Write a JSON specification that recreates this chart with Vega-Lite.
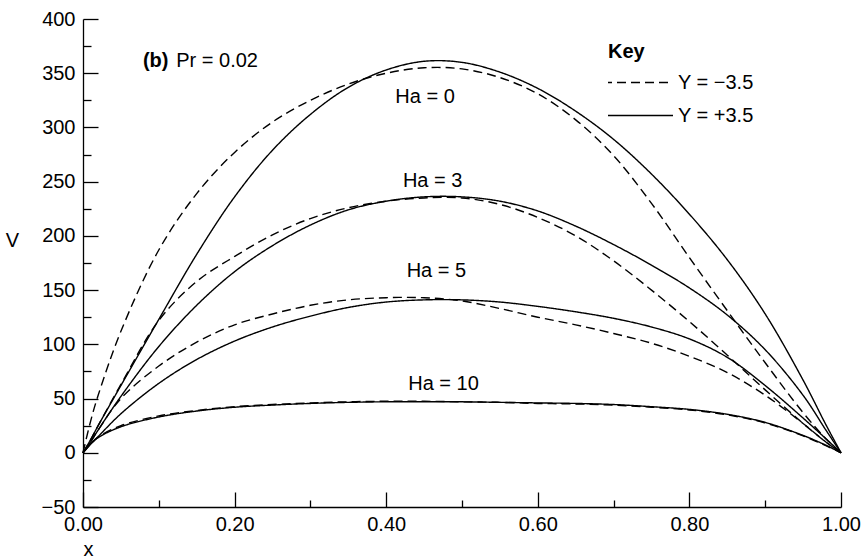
{
  "$schema": "https://vega.github.io/schema/vega-lite/v6.json",
  "width": 758,
  "height": 488,
  "autosize": {"type": "none"},
  "padding": {"left": 83, "top": 19, "right": 24, "bottom": 53},
  "background": "white",
  "config": {
    "font": "Liberation Sans",
    "view": {"stroke": null},
    "axis": {
      "grid": false,
      "domainColor": "black",
      "tickColor": "black",
      "labelColor": "black",
      "titleColor": "black",
      "labelFont": "Liberation Sans",
      "titleFont": "Liberation Sans",
      "labelFontSize": 20,
      "titleFontSize": 20,
      "titleFontWeight": "normal",
      "domainWidth": 1.3,
      "tickWidth": 1.3,
      "labelOverlap": false,
      "labelFlush": false
    }
  },
  "datasets": {
    "profiles": [
      {"x":0,"V":0,"Ha":0,"Y":"Y = +3.5"},{"x":0.01,"V":12,"Ha":0,"Y":"Y = +3.5"},{"x":0.02,"V":25,"Ha":0,"Y":"Y = +3.5"},{"x":0.05,"V":62,"Ha":0,"Y":"Y = +3.5"},{"x":0.1,"V":123,"Ha":0,"Y":"Y = +3.5"},{"x":0.15,"V":183,"Ha":0,"Y":"Y = +3.5"},{"x":0.2,"V":236,"Ha":0,"Y":"Y = +3.5"},{"x":0.25,"V":279,"Ha":0,"Y":"Y = +3.5"},{"x":0.3,"V":312,"Ha":0,"Y":"Y = +3.5"},{"x":0.35,"V":337,"Ha":0,"Y":"Y = +3.5"},{"x":0.4,"V":353,"Ha":0,"Y":"Y = +3.5"},{"x":0.45,"V":361,"Ha":0,"Y":"Y = +3.5"},{"x":0.5,"V":360,"Ha":0,"Y":"Y = +3.5"},{"x":0.55,"V":351,"Ha":0,"Y":"Y = +3.5"},{"x":0.6,"V":336,"Ha":0,"Y":"Y = +3.5"},{"x":0.65,"V":315,"Ha":0,"Y":"Y = +3.5"},{"x":0.7,"V":289,"Ha":0,"Y":"Y = +3.5"},{"x":0.75,"V":257,"Ha":0,"Y":"Y = +3.5"},{"x":0.8,"V":220,"Ha":0,"Y":"Y = +3.5"},{"x":0.85,"V":178,"Ha":0,"Y":"Y = +3.5"},{"x":0.9,"V":128,"Ha":0,"Y":"Y = +3.5"},{"x":0.95,"V":67,"Ha":0,"Y":"Y = +3.5"},{"x":0.98,"V":26,"Ha":0,"Y":"Y = +3.5"},{"x":1,"V":0,"Ha":0,"Y":"Y = +3.5"},

      {"x":0,"V":0,"Ha":0,"Y":"Y = −3.5"},{"x":0.01,"V":29,"Ha":0,"Y":"Y = −3.5"},{"x":0.02,"V":53,"Ha":0,"Y":"Y = −3.5"},{"x":0.05,"V":112,"Ha":0,"Y":"Y = −3.5"},{"x":0.1,"V":187,"Ha":0,"Y":"Y = −3.5"},{"x":0.15,"V":239,"Ha":0,"Y":"Y = −3.5"},{"x":0.2,"V":277,"Ha":0,"Y":"Y = −3.5"},{"x":0.25,"V":305,"Ha":0,"Y":"Y = −3.5"},{"x":0.3,"V":325,"Ha":0,"Y":"Y = −3.5"},{"x":0.35,"V":340,"Ha":0,"Y":"Y = −3.5"},{"x":0.4,"V":350,"Ha":0,"Y":"Y = −3.5"},{"x":0.45,"V":355,"Ha":0,"Y":"Y = −3.5"},{"x":0.5,"V":354,"Ha":0,"Y":"Y = −3.5"},{"x":0.55,"V":346,"Ha":0,"Y":"Y = −3.5"},{"x":0.6,"V":331,"Ha":0,"Y":"Y = −3.5"},{"x":0.65,"V":307,"Ha":0,"Y":"Y = −3.5"},{"x":0.7,"V":274,"Ha":0,"Y":"Y = −3.5"},{"x":0.75,"V":230,"Ha":0,"Y":"Y = −3.5"},{"x":0.8,"V":180,"Ha":0,"Y":"Y = −3.5"},{"x":0.85,"V":131,"Ha":0,"Y":"Y = −3.5"},{"x":0.9,"V":83,"Ha":0,"Y":"Y = −3.5"},{"x":0.95,"V":37,"Ha":0,"Y":"Y = −3.5"},{"x":0.98,"V":13,"Ha":0,"Y":"Y = −3.5"},{"x":1,"V":0,"Ha":0,"Y":"Y = −3.5"},

      {"x":0,"V":0,"Ha":3,"Y":"Y = +3.5"},{"x":0.01,"V":10,"Ha":3,"Y":"Y = +3.5"},{"x":0.02,"V":21,"Ha":3,"Y":"Y = +3.5"},{"x":0.05,"V":52,"Ha":3,"Y":"Y = +3.5"},{"x":0.1,"V":98,"Ha":3,"Y":"Y = +3.5"},{"x":0.15,"V":136,"Ha":3,"Y":"Y = +3.5"},{"x":0.2,"V":167,"Ha":3,"Y":"Y = +3.5"},{"x":0.25,"V":191,"Ha":3,"Y":"Y = +3.5"},{"x":0.3,"V":210,"Ha":3,"Y":"Y = +3.5"},{"x":0.35,"V":224,"Ha":3,"Y":"Y = +3.5"},{"x":0.4,"V":232,"Ha":3,"Y":"Y = +3.5"},{"x":0.45,"V":236,"Ha":3,"Y":"Y = +3.5"},{"x":0.5,"V":236,"Ha":3,"Y":"Y = +3.5"},{"x":0.55,"V":232,"Ha":3,"Y":"Y = +3.5"},{"x":0.6,"V":223,"Ha":3,"Y":"Y = +3.5"},{"x":0.65,"V":209,"Ha":3,"Y":"Y = +3.5"},{"x":0.7,"V":192,"Ha":3,"Y":"Y = +3.5"},{"x":0.75,"V":173,"Ha":3,"Y":"Y = +3.5"},{"x":0.8,"V":152,"Ha":3,"Y":"Y = +3.5"},{"x":0.85,"V":127,"Ha":3,"Y":"Y = +3.5"},{"x":0.9,"V":95,"Ha":3,"Y":"Y = +3.5"},{"x":0.95,"V":53,"Ha":3,"Y":"Y = +3.5"},{"x":0.98,"V":21,"Ha":3,"Y":"Y = +3.5"},{"x":1,"V":0,"Ha":3,"Y":"Y = +3.5"},

      {"x":0,"V":0,"Ha":3,"Y":"Y = −3.5"},{"x":0.01,"V":12,"Ha":3,"Y":"Y = −3.5"},{"x":0.02,"V":25,"Ha":3,"Y":"Y = −3.5"},{"x":0.05,"V":63,"Ha":3,"Y":"Y = −3.5"},{"x":0.1,"V":122,"Ha":3,"Y":"Y = −3.5"},{"x":0.15,"V":158,"Ha":3,"Y":"Y = −3.5"},{"x":0.2,"V":181,"Ha":3,"Y":"Y = −3.5"},{"x":0.25,"V":201,"Ha":3,"Y":"Y = −3.5"},{"x":0.3,"V":216,"Ha":3,"Y":"Y = −3.5"},{"x":0.35,"V":226,"Ha":3,"Y":"Y = −3.5"},{"x":0.4,"V":232,"Ha":3,"Y":"Y = −3.5"},{"x":0.45,"V":235,"Ha":3,"Y":"Y = −3.5"},{"x":0.5,"V":235,"Ha":3,"Y":"Y = −3.5"},{"x":0.55,"V":229,"Ha":3,"Y":"Y = −3.5"},{"x":0.6,"V":217,"Ha":3,"Y":"Y = −3.5"},{"x":0.65,"V":200,"Ha":3,"Y":"Y = −3.5"},{"x":0.7,"V":177,"Ha":3,"Y":"Y = −3.5"},{"x":0.75,"V":150,"Ha":3,"Y":"Y = −3.5"},{"x":0.8,"V":121,"Ha":3,"Y":"Y = −3.5"},{"x":0.85,"V":90,"Ha":3,"Y":"Y = −3.5"},{"x":0.9,"V":58,"Ha":3,"Y":"Y = −3.5"},{"x":0.95,"V":27,"Ha":3,"Y":"Y = −3.5"},{"x":0.98,"V":10,"Ha":3,"Y":"Y = −3.5"},{"x":1,"V":0,"Ha":3,"Y":"Y = −3.5"},

      {"x":0,"V":0,"Ha":5,"Y":"Y = +3.5"},{"x":0.01,"V":8,"Ha":5,"Y":"Y = +3.5"},{"x":0.02,"V":15,"Ha":5,"Y":"Y = +3.5"},{"x":0.05,"V":36,"Ha":5,"Y":"Y = +3.5"},{"x":0.1,"V":64,"Ha":5,"Y":"Y = +3.5"},{"x":0.15,"V":86,"Ha":5,"Y":"Y = +3.5"},{"x":0.2,"V":103,"Ha":5,"Y":"Y = +3.5"},{"x":0.25,"V":116,"Ha":5,"Y":"Y = +3.5"},{"x":0.3,"V":126,"Ha":5,"Y":"Y = +3.5"},{"x":0.35,"V":134,"Ha":5,"Y":"Y = +3.5"},{"x":0.4,"V":139,"Ha":5,"Y":"Y = +3.5"},{"x":0.45,"V":141,"Ha":5,"Y":"Y = +3.5"},{"x":0.5,"V":141,"Ha":5,"Y":"Y = +3.5"},{"x":0.55,"V":139,"Ha":5,"Y":"Y = +3.5"},{"x":0.6,"V":135,"Ha":5,"Y":"Y = +3.5"},{"x":0.65,"V":130,"Ha":5,"Y":"Y = +3.5"},{"x":0.7,"V":124,"Ha":5,"Y":"Y = +3.5"},{"x":0.75,"V":116,"Ha":5,"Y":"Y = +3.5"},{"x":0.8,"V":105,"Ha":5,"Y":"Y = +3.5"},{"x":0.85,"V":88,"Ha":5,"Y":"Y = +3.5"},{"x":0.9,"V":62,"Ha":5,"Y":"Y = +3.5"},{"x":0.95,"V":32,"Ha":5,"Y":"Y = +3.5"},{"x":0.98,"V":13,"Ha":5,"Y":"Y = +3.5"},{"x":1,"V":0,"Ha":5,"Y":"Y = +3.5"},

      {"x":0,"V":0,"Ha":5,"Y":"Y = −3.5"},{"x":0.01,"V":10,"Ha":5,"Y":"Y = −3.5"},{"x":0.02,"V":21,"Ha":5,"Y":"Y = −3.5"},{"x":0.05,"V":50,"Ha":5,"Y":"Y = −3.5"},{"x":0.1,"V":80,"Ha":5,"Y":"Y = −3.5"},{"x":0.15,"V":102,"Ha":5,"Y":"Y = −3.5"},{"x":0.2,"V":118,"Ha":5,"Y":"Y = −3.5"},{"x":0.25,"V":128,"Ha":5,"Y":"Y = −3.5"},{"x":0.3,"V":136,"Ha":5,"Y":"Y = −3.5"},{"x":0.35,"V":141,"Ha":5,"Y":"Y = −3.5"},{"x":0.4,"V":143,"Ha":5,"Y":"Y = −3.5"},{"x":0.45,"V":143,"Ha":5,"Y":"Y = −3.5"},{"x":0.5,"V":140,"Ha":5,"Y":"Y = −3.5"},{"x":0.55,"V":133,"Ha":5,"Y":"Y = −3.5"},{"x":0.6,"V":125,"Ha":5,"Y":"Y = −3.5"},{"x":0.65,"V":118,"Ha":5,"Y":"Y = −3.5"},{"x":0.7,"V":110,"Ha":5,"Y":"Y = −3.5"},{"x":0.75,"V":101,"Ha":5,"Y":"Y = −3.5"},{"x":0.8,"V":89,"Ha":5,"Y":"Y = −3.5"},{"x":0.85,"V":74,"Ha":5,"Y":"Y = −3.5"},{"x":0.9,"V":53,"Ha":5,"Y":"Y = −3.5"},{"x":0.95,"V":27,"Ha":5,"Y":"Y = −3.5"},{"x":0.98,"V":10,"Ha":5,"Y":"Y = −3.5"},{"x":1,"V":0,"Ha":5,"Y":"Y = −3.5"},

      {"x":0,"V":0,"Ha":10,"Y":"Y = +3.5"},{"x":0.01,"V":8,"Ha":10,"Y":"Y = +3.5"},{"x":0.02,"V":14,"Ha":10,"Y":"Y = +3.5"},{"x":0.05,"V":24,"Ha":10,"Y":"Y = +3.5"},{"x":0.1,"V":33,"Ha":10,"Y":"Y = +3.5"},{"x":0.15,"V":38.5,"Ha":10,"Y":"Y = +3.5"},{"x":0.2,"V":42,"Ha":10,"Y":"Y = +3.5"},{"x":0.25,"V":44,"Ha":10,"Y":"Y = +3.5"},{"x":0.3,"V":45.5,"Ha":10,"Y":"Y = +3.5"},{"x":0.35,"V":46.5,"Ha":10,"Y":"Y = +3.5"},{"x":0.4,"V":47,"Ha":10,"Y":"Y = +3.5"},{"x":0.45,"V":47,"Ha":10,"Y":"Y = +3.5"},{"x":0.5,"V":47,"Ha":10,"Y":"Y = +3.5"},{"x":0.55,"V":46.5,"Ha":10,"Y":"Y = +3.5"},{"x":0.6,"V":46,"Ha":10,"Y":"Y = +3.5"},{"x":0.65,"V":45.5,"Ha":10,"Y":"Y = +3.5"},{"x":0.7,"V":44.5,"Ha":10,"Y":"Y = +3.5"},{"x":0.75,"V":42.5,"Ha":10,"Y":"Y = +3.5"},{"x":0.8,"V":40,"Ha":10,"Y":"Y = +3.5"},{"x":0.85,"V":35.5,"Ha":10,"Y":"Y = +3.5"},{"x":0.9,"V":28,"Ha":10,"Y":"Y = +3.5"},{"x":0.95,"V":16,"Ha":10,"Y":"Y = +3.5"},{"x":0.98,"V":7,"Ha":10,"Y":"Y = +3.5"},{"x":1,"V":0,"Ha":10,"Y":"Y = +3.5"},

      {"x":0,"V":0,"Ha":10,"Y":"Y = −3.5"},{"x":0.01,"V":8,"Ha":10,"Y":"Y = −3.5"},{"x":0.02,"V":14.5,"Ha":10,"Y":"Y = −3.5"},{"x":0.05,"V":25,"Ha":10,"Y":"Y = −3.5"},{"x":0.1,"V":34,"Ha":10,"Y":"Y = −3.5"},{"x":0.15,"V":39,"Ha":10,"Y":"Y = −3.5"},{"x":0.2,"V":42.5,"Ha":10,"Y":"Y = −3.5"},{"x":0.25,"V":44.5,"Ha":10,"Y":"Y = −3.5"},{"x":0.3,"V":46,"Ha":10,"Y":"Y = −3.5"},{"x":0.35,"V":47,"Ha":10,"Y":"Y = −3.5"},{"x":0.4,"V":47.5,"Ha":10,"Y":"Y = −3.5"},{"x":0.45,"V":47.5,"Ha":10,"Y":"Y = −3.5"},{"x":0.5,"V":47,"Ha":10,"Y":"Y = −3.5"},{"x":0.55,"V":46.5,"Ha":10,"Y":"Y = −3.5"},{"x":0.6,"V":45.5,"Ha":10,"Y":"Y = −3.5"},{"x":0.65,"V":45,"Ha":10,"Y":"Y = −3.5"},{"x":0.7,"V":44,"Ha":10,"Y":"Y = −3.5"},{"x":0.75,"V":42,"Ha":10,"Y":"Y = −3.5"},{"x":0.8,"V":39.5,"Ha":10,"Y":"Y = −3.5"},{"x":0.85,"V":35,"Ha":10,"Y":"Y = −3.5"},{"x":0.9,"V":27.5,"Ha":10,"Y":"Y = −3.5"},{"x":0.95,"V":15.5,"Ha":10,"Y":"Y = −3.5"},{"x":0.98,"V":6.5,"Ha":10,"Y":"Y = −3.5"},{"x":1,"V":0,"Ha":10,"Y":"Y = −3.5"}
    ],
    "curveLabels": [
      {"x": 0.412, "V": 323, "label": "Ha = 0"},
      {"x": 0.422, "V": 245, "label": "Ha = 3"},
      {"x": 0.427, "V": 162, "label": "Ha = 5"},
      {"x": 0.429, "V": 58, "label": "Ha = 10"},
      {"x": 0.123, "V": 356, "label": "Pr = 0.02"}
    ],
    "panel": [
      {"x": 0.079, "V": 356, "label": "(b)"}
    ]
  },
  "layer": [
    {
      "data": {"name": "profiles"},
      "mark": {"type": "line", "interpolate": "catmull-rom", "color": "black", "strokeWidth": 1.4},
      "encoding": {
        "x": {
          "field": "x", "type": "quantitative",
          "scale": {"domain": [0, 1], "nice": false, "zero": false},
          "axis": {
            "orient": "bottom", "values": [0, 0.2, 0.4, 0.6, 0.8, 1], "format": ".2f",
            "tickSize": -15, "labelPadding": 22,
            "title": "x", "titleAngle": 0, "titleX": 5, "titleY": 48,
            "titleAlign": "center", "titleBaseline": "alphabetic"
          }
        },
        "y": {
          "field": "V", "type": "quantitative",
          "scale": {"domain": [-50, 400], "nice": false, "zero": false},
          "axis": {
            "orient": "left", "values": [-50, 0, 50, 100, 150, 200, 250, 300, 350, 400],
            "tickSize": -15, "labelPadding": 23,
            "title": "V", "titleAngle": 0, "titleX": -71, "titleY": 221,
            "titleAlign": "center", "titleBaseline": "middle"
          }
        },
        "strokeDash": {
          "field": "Y", "type": "nominal",
          "scale": {"domain": ["Y = −3.5", "Y = +3.5"], "range": [[9, 5], [1, 0]]},
          "legend": {
            "title": "Key", "orient": "none", "legendX": 525, "legendY": 23,
            "titleFont": "Liberation Sans", "titleFontSize": 20, "titleFontWeight": "bold", "titleColor": "black",
            "titlePadding": 4,
            "labelFont": "Liberation Sans", "labelFontSize": 20, "labelColor": "black", "labelOffset": 4,
            "symbolType": "stroke", "symbolSize": 4900, "symbolStrokeWidth": 1.3, "symbolStrokeColor": "black",
            "symbolOffset": -6,
            "clipHeight": 33,
            "rowPadding": 0
          }
        },
        "detail": {"field": "Ha", "type": "nominal"}
      }
    },
    {
      "data": {"name": "curveLabels"},
      "mark": {"type": "text", "align": "left", "baseline": "alphabetic", "fontSize": 20, "color": "black", "font": "Liberation Sans"},
      "encoding": {
        "x": {
          "field": "x", "type": "quantitative",
          "axis": {"orient": "bottom", "values": [0.1, 0.3, 0.5, 0.7, 0.9], "tickSize": -7, "labels": false, "domain": false, "title": null}
        },
        "y": {
          "field": "V", "type": "quantitative",
          "axis": {"orient": "left", "values": [-25, 25, 75, 125, 175, 225, 275, 325, 375], "tickSize": -8, "labels": false, "domain": false, "title": null}
        },
        "text": {"field": "label"}
      }
    },
    {
      "data": {"name": "panel"},
      "mark": {"type": "text", "align": "left", "baseline": "alphabetic", "fontSize": 20, "fontWeight": "bold", "color": "black", "font": "Liberation Sans"},
      "encoding": {
        "x": {"field": "x", "type": "quantitative", "axis": null},
        "y": {"field": "V", "type": "quantitative", "axis": null},
        "text": {"field": "label"}
      }
    }
  ],
  "resolve": {"axis": {"x": "independent", "y": "independent"}}
}
